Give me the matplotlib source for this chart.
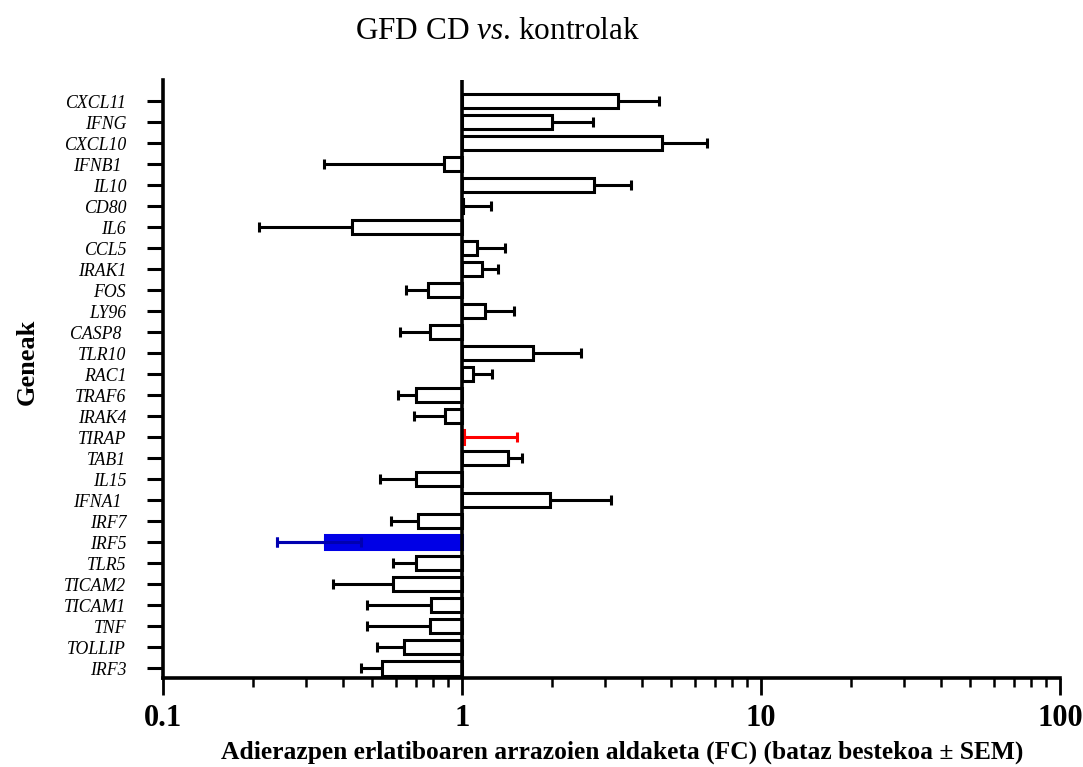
import matplotlib
matplotlib.use('Agg')
from matplotlib import pyplot as plt
from matplotlib.ticker import LogLocator, NullFormatter, FixedFormatter, FixedLocator
import numpy as np

plt.rcParams['font.family'] = ['Liberation Serif', 'DejaVu Serif']
plt.rcParams['mathtext.fontset'] = 'custom'
plt.rcParams['mathtext.rm'] = 'Liberation Serif'
plt.rcParams['mathtext.it'] = 'Liberation Serif:italic'

# genes from top to bottom
genes = ['CXCL11', 'IFNG', 'CXCL10', 'IFNB1 ', 'IL10', 'CD80', 'IL6', 'CCL5',
         'IRAK1', 'FOS', 'LY96', 'CASP8 ', 'TLR10', 'RAC1', 'TRAF6', 'IRAK4',
         'TIRAP', 'TAB1', 'IL15', 'IFNA1 ', 'IRF7', 'IRF5', 'TLR5', 'TICAM2',
         'TICAM1', 'TNF', 'TOLLIP', 'IRF3']
# fold change (mean)
fc = [3.32, 2.0, 4.67, 0.87, 2.76, 1.01, 0.43, 1.12,
      1.17, 0.77, 1.19, 0.78, 1.73, 1.09, 0.70, 0.88,
      1.015, 1.42, 0.70, 1.97, 0.71, 0.348, 0.70, 0.59,
      0.79, 0.78, 0.64, 0.54]
# end of the SEM whisker (outer side)
sem_end = [4.56, 2.74, 6.6, 0.345, 3.67, 1.25, 0.21, 1.39,
           1.32, 0.65, 1.49, 0.62, 2.5, 1.26, 0.61, 0.69,
           1.53, 1.59, 0.53, 3.15, 0.58, 0.24, 0.59, 0.37,
           0.48, 0.48, 0.52, 0.46]
# IRF5 whisker also drawn on the inner side
irf5_inner = 0.46

edge_colors = {'TIRAP': 'red', 'IRF5': '#0000e6'}
face_colors = {'IRF5': '#0000e6'}

fig = plt.figure(figsize=(10.83, 7.67), dpi=100)
ax = fig.add_axes([0.1505, 0.1160, 0.8283, 0.7797])
ax.set_xscale('log')

y = np.arange(len(genes))
lw = 2.2
for i, g in enumerate(genes):
    name = g.strip()
    ec = edge_colors.get(name, 'black')
    fcol = face_colors.get(name, 'white')
    ax.barh(y[i], fc[i] - 1, left=1, height=0.68, color=fcol,
            edgecolor=ec, linewidth=lw, zorder=3)
    if fc[i] >= 1:
        xerr = [[0], [sem_end[i] - fc[i]]]
    else:
        xerr = [[fc[i] - sem_end[i]], [0]]
    ax.errorbar(fc[i], y[i], xerr=xerr, fmt='none', ecolor=ec,
                elinewidth=lw, capsize=3.5, capthick=lw, zorder=2)
    if name == 'IRF5':
        ax.errorbar(fc[i], y[i], xerr=[[fc[i] - sem_end[i]], [irf5_inner - fc[i]]],
                    fmt='none', ecolor='#0000b0', elinewidth=lw,
                    capsize=3.5, capthick=lw, zorder=4)

ax.axvline(1, color='black', linewidth=2.6, zorder=5)

ax.set_xlim(0.1, 100)
ax.set_ylim(len(genes) - 1 + 0.46, -1.0)

ax.set_yticks(y)
ax.set_yticklabels(genes, fontstyle='italic', fontsize=12.8)
ax.tick_params(axis='y', length=11.5, width=2.2, pad=15)

ax.xaxis.set_major_locator(FixedLocator([0.1, 1, 10, 100]))
ax.xaxis.set_major_formatter(FixedFormatter(['0.1', '1', '10', '100']))
ax.xaxis.set_minor_locator(LogLocator(base=10, subs=np.arange(2, 10)))
ax.xaxis.set_minor_formatter(NullFormatter())
ax.tick_params(axis='x', which='major', length=12, width=2.0, labelsize=22, pad=7)
ax.tick_params(axis='x', which='minor', length=6.5, width=1.8)
for lab in ax.get_xticklabels():
    lab.set_fontweight('bold')

for side in ['top', 'right']:
    ax.spines[side].set_visible(False)
for side in ['left', 'bottom']:
    ax.spines[side].set_linewidth(2.6)

ax.set_xlabel('Adierazpen erlatiboaren arrazoien aldaketa (FC) (bataz bestekoa \u00b1 SEM)',
              fontsize=18.4, fontweight='bold')
ax.xaxis.set_label_coords(0.512, -0.105)
fig.text(0.025, 0.528, 'Geneak', rotation=90, fontsize=19, fontweight='bold',
         ha='center', va='center')

fig.text(0.459, 0.959, r'GFD CD $\mathit{vs}$. kontrolak', fontsize=22.5,
         ha='center', va='center')

fig.savefig('out.png', dpi=100)
